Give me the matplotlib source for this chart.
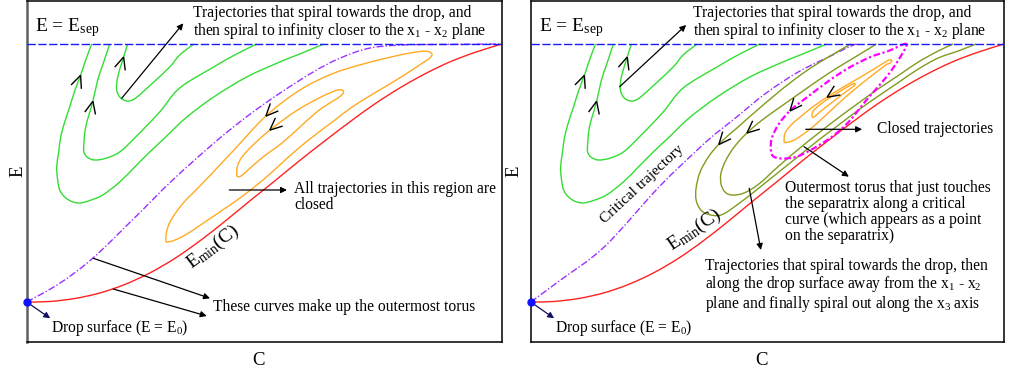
import numpy as np
import matplotlib
matplotlib.use("Agg")
import matplotlib.pyplot as plt
from matplotlib.path import Path
from matplotlib.patches import PathPatch

plt.rcParams["font.family"] = ["Liberation Serif", "DejaVu Serif"]
plt.rcParams["mathtext.fontset"] = "custom"
plt.rcParams["mathtext.rm"] = "Liberation Serif"
plt.rcParams["mathtext.it"] = "Liberation Serif:italic"
plt.rcParams["mathtext.bf"] = "Liberation Serif:bold"

# ---------------- phase-plane coordinates (C, E) ----------------
C_MAX, E_MAX = 475, 341
E_SEP, E_0 = 298, 40

# lower boundary E_min(C)
red_c = [0, 23, 48, 73, 98, 123, 148, 173, 198, 223, 248, 273, 298, 323, 348, 373, 398, 423, 448, 475]
red_e = [40, 40.5, 43.5, 49, 57.5, 69, 83.5, 101, 120.5, 141, 161, 181.5, 201, 220, 238, 254, 268, 280, 289.5, 298]

# open trajectories leaving through the separatrix (outer, middle, inner)
g3_c = [65, 59, 54, 48, 43, 38, 34, 32, 30, 31, 33, 38, 45, 53, 63, 76, 93, 109, 123, 139, 159, 187, 220, 253, 273, 297]
g3_e = [298, 282, 267, 251, 235, 220, 205, 190, 175, 162, 152, 145, 140.5, 139, 141.5, 147, 160, 176, 190, 205, 224, 245, 265, 280, 288, 298]
g2_c = [83, 81, 76, 71, 66, 59, 57, 57.5, 61, 68, 79, 93, 109, 133, 153, 187, 208, 230]
g2_e = [298, 292, 277, 262, 240, 215, 195, 189, 184.5, 182, 183.7, 190, 205, 230, 254, 275, 287, 298]
g1_c = [101, 96, 91, 90, 94, 101, 109, 126, 143, 153, 167]
g1_e = [298, 282, 265, 252, 244, 241, 244, 259, 275, 287, 298]

# left panel: outermost torus boundary and closed orbits
crit_l_c = [0, 33, 66, 109, 146, 187, 220, 253, 287, 313, 342, 375, 420, 475]
crit_l_e = [40, 58.7, 83.7, 125.3, 162, 198.7, 225.3, 248.7, 270.3, 283.7, 293.7, 297, 297.6, 298]
o1_c = [139.3, 139.8, 143.3, 150.3, 159.3, 173.3, 206.3, 239.3, 273.3, 306.3, 340.3, 373.3, 393.3, 401.3, 405.3,
        403.3, 397.3, 375.3, 356.3, 341.3, 323.3, 308.3, 290.3, 273.3, 256.3, 236.3, 213.3, 200.3, 178.3, 160.3,
        148.3, 141.3, 139.3]
o1_e = [101, 110, 120, 131, 142, 156, 191, 226, 252, 268.5, 279, 287, 290.5, 290.5, 288,
        284, 280, 265.5, 254, 245, 233.5, 222, 208.5, 195, 180, 162, 144, 135, 120, 108,
        102, 100, 101]
o2_c = [210, 210.8, 215.3, 225.3, 243.3, 269.3, 293.3, 309.3, 315.3, 316.8, 313.3, 306.3, 291.3, 273.3, 255.3,
        236.3, 221.3, 214.3, 210.8, 210]
o2_e = [168, 176, 185, 196, 212, 231, 244.5, 251.5, 252, 249.5, 245.5, 241, 231, 215, 199,
        185, 172, 166, 165.5, 168]

# right panel: critical trajectory, tori near E_min, separatrix-touching torus, closed orbits
crit_r_c = [0, 30, 74, 129, 169, 186, 203, 236, 269, 303, 319, 327]
crit_r_e = [40, 62, 95.3, 155.3, 193.7, 208.7, 222, 248.7, 270.3, 287, 295, 298]
olA_c = [321, 304, 284, 264, 244, 224, 207, 191, 179, 170, 166, 166, 170, 177, 191, 209, 229, 249, 269, 289,
         309, 329, 349, 369, 389, 409, 429, 447]
olA_e = [298, 288, 276, 262, 246, 229, 214, 200, 186, 170, 154, 142, 133, 128, 127, 138.5, 154, 170, 186, 202,
         217, 232, 246, 259.5, 273, 284, 291, 298]
olB_c = [347, 329, 309, 289, 269, 249, 231, 217, 205, 196, 191, 191, 195, 202, 214, 229, 249, 269, 289, 309,
         329, 349, 369, 389, 409, 424]
olB_e = [298, 287, 275, 262, 248, 234, 221, 209, 196, 182, 169, 158, 150, 147, 149, 158, 176, 193, 209, 224.4,
         239, 253.3, 266.5, 280, 291, 298]
mag_c = [377, 359, 341, 319, 299, 279, 261, 249, 242, 241, 243, 252, 266, 281, 302, 319, 337, 357, 369, 377]
mag_e = [298, 291, 285, 274, 261, 246, 232, 218, 204, 194, 186, 183.5, 185, 192, 205, 220, 242, 265, 282, 298]
or1_c = [254.3, 255.3, 261.3, 269.3, 284.3, 302.3, 317.3, 331.3, 345.3, 354.3, 359.3, 362.3, 360.3, 356.3,
         339.3, 324.3, 309.3, 294.3, 279.3, 266.3, 259.3, 255.3, 254.3]
or1_e = [201, 209, 217, 224, 236, 248, 257, 265, 273.5, 279, 282, 281.5, 278.5, 277,
         264, 252, 239, 225, 212, 203, 200, 199.5, 201]
or2_c = [282.3, 284.3, 295.3, 309.3, 321.3, 325.3, 324.3, 317.3, 304.3, 291.3, 284.3, 282.3]
or2_e = [226, 232, 241, 250, 257, 258.5, 256, 251, 241, 231, 225, 226]

GREEN = "#33dd33"
ORANGE = "#ffaa22"
RED = "#ff2222"
BLUE = "#1a1aff"
PURPLE = "#9b30ff"
OLIVE = "#7f9c1e"
MAGENTA = "#ff00ff"

FS = 11.2       # annotation text size
LS = 1.0        # line spacing of the multi-line notes


def smooth_path(c, e):
    """Cubic (Catmull-Rom) path through the given points."""
    pts = np.column_stack([c, e]).astype(float)
    n = len(pts)
    closed = np.allclose(pts[0], pts[-1])
    verts, codes = [pts[0]], [Path.MOVETO]
    for i in range(n - 1):
        p0 = pts[i - 1] if i > 0 else (pts[-2] if closed else pts[0])
        p1, p2 = pts[i], pts[i + 1]
        p3 = pts[i + 2] if i + 2 < n else (pts[1] if closed else pts[-1])
        verts += [p1 + (p2 - p0) / 6.0, p2 - (p3 - p1) / 6.0, p2]
        codes += [Path.CURVE4] * 3
    return Path(verts, codes)


def curve(ax, c, e, color, lw=1.0, ls="-"):
    ax.add_patch(PathPatch(smooth_path(c, e), fill=False, edgecolor=color,
                           lw=lw, linestyle=ls, capstyle="butt", zorder=2))


def chevron(ax, c, e, at, sign, size=13.5, half_angle=24.0):
    """Open arrowhead sitting on a curve, pointing along its direction of travel."""
    pts = np.column_stack([c, e]).astype(float)
    a = np.asarray(at, float)
    best = None
    for i in range(len(pts) - 1):
        p, q = pts[i], pts[i + 1]
        d = q - p
        t = np.clip(np.dot(a - p, d) / np.dot(d, d), 0, 1)
        proj = p + t * d
        dist = np.hypot(*(proj - a))
        if best is None or dist < best[0]:
            best = (dist, proj, d)
    _, tip, d = best
    u = sign * d / np.hypot(*d)
    th = np.radians(half_angle)
    for s in (1, -1):
        rot = np.array([[np.cos(s * th), -np.sin(s * th)], [np.sin(s * th), np.cos(s * th)]])
        arm = tip - size * (rot @ u)
        ax.plot([arm[0], tip[0]], [arm[1], tip[1]], color="k", lw=1.0, zorder=4,
                solid_capstyle="butt")


def pointer(ax, tail, head, color="k"):
    ax.annotate("", xy=head, xytext=tail,
                arrowprops=dict(arrowstyle="-|>", color=color, lw=0.9,
                                mutation_scale=9, shrinkA=0, shrinkB=0), zorder=5)


def note(ax, x, top, text_lines, size=FS):
    """Multi-line note; `top` is the upper edge of the first line."""
    ax.text(x, top, "\n".join(text_lines), fontsize=size, va="top", ha="left",
            linespacing=LS, zorder=6)


def common(ax, top_x, ylab_x):
    ax.set_xlim(0, C_MAX)
    ax.set_ylim(0, E_MAX)
    ax.set_xticks([])
    ax.set_yticks([])
    for sp in ax.spines.values():
        sp.set_linewidth(1.1)
    ax.axhline(E_SEP, color=BLUE, lw=1.0, ls=(0, (6, 1.8)), zorder=3)
    for gc, ge in ((g3_c, g3_e), (g2_c, g2_e), (g1_c, g1_e)):
        curve(ax, gc, ge, GREEN)
    curve(ax, red_c, red_e, RED)
    chevron(ax, g3_c, g3_e, (53, 267), -1)
    chevron(ax, g2_c, g2_e, (65, 241), -1)
    chevron(ax, g1_c, g1_e, (97, 285), -1)
    ax.plot([0], [E_0], "o", color="#1010ff", ms=5, zorder=7, clip_on=False)
    pointer(ax, (0, E_0), (23.5, 23.7), color="#101060")
    ax.text(24, 10.3, r"Drop surface (E = E$_0$)", fontsize=FS, va="baseline")
    ax.text(8, 310.3, r"E = E$_{\mathrm{sep}}$", fontsize=14, va="baseline")
    note(ax, top_x, 337,
         ["Trajectories that spiral towards the drop, and",
          r"then spiral to infinity closer to the x$_1$ - x$_2$ plane"])
    ax.text(0.488, -0.053, "C", transform=ax.transAxes, fontsize=13.5, ha="center", va="center")
    ax.text(ylab_x, 0.5, "E", transform=ax.transAxes, fontsize=13.5, ha="center", va="center",
            rotation=90)


fig = plt.figure(figsize=(10.09, 3.73), dpi=100)
axL = fig.add_axes([0.02646, 0.08311, 0.47076, 0.91421])
axR = fig.add_axes([0.52597, 0.08311, 0.46908, 0.91421])

# ---------------- left panel ----------------
common(axL, 166.6, -0.019)
axL.spines["left"].set_color("#606060")
axL.spines["left"].set_linewidth(1.8)
curve(axL, crit_l_c, crit_l_e, PURPLE, ls=(0, (5, 1.5, 1, 1.5)))
curve(axL, o1_c, o1_e, ORANGE)
curve(axL, o2_c, o2_e, ORANGE)
chevron(axL, o1_c, o1_e, (238, 227), -1)
chevron(axL, o2_c, o2_e, (243, 212), -1)
pointer(axL, (95, 243.7), (156.6, 318.7))
pointer(axL, (202.6, 152), (260.3, 152))
note(axL, 267.3, 161, ["All trajectories in this region are", "closed"])
pointer(axL, (66.6, 83.7), (183.3, 43.7))
pointer(axL, (86.6, 53), (180, 26))
axL.text(186.6, 31.3, "These curves make up the outermost torus", fontsize=FS, va="baseline")
axL.text(186.3, 95, r"E$_{\mathrm{min}}$(C)", fontsize=14, rotation=37, ha="center", va="center")

# ---------------- right panel ----------------
common(axR, 162.6, -0.035)
curve(axR, crit_r_c, crit_r_e, PURPLE, ls=(0, (5, 1.5, 1, 1.5)))
curve(axR, olA_c, olA_e, OLIVE)
curve(axR, olB_c, olB_e, OLIVE)
curve(axR, mag_c, mag_e, MAGENTA, lw=1.6, ls=(0, (3, 1.2, 1, 1.2)))
curve(axR, or1_c, or1_e, ORANGE)
curve(axR, or2_c, or2_e, ORANGE)
chevron(axR, olA_c, olA_e, (187, 199), 1)
chevron(axR, olB_c, olB_e, (217, 209), 1)
chevron(axR, mag_c, mag_e, (259, 232), 1)
chevron(axR, or1_c, or1_e, (296, 247), -1)
pointer(axR, (89.3, 255.3), (156, 317))
pointer(axR, (276, 212.7), (332.6, 212.7))
axR.text(347.6, 208.7, "Closed trajectories", fontsize=FS, va="baseline")
pointer(axR, (274.3, 195.3), (319.3, 165.3))
note(axR, 255.3, 161.5,
     ["Outermost torus that just touches", "the separatrix along a critical",
      "curve (which appears as a point", "on the separatrix)"])
pointer(axR, (219.3, 153.7), (231, 92))
note(axR, 175.3, 84,
     ["Trajectories that spiral towards the drop, then",
      r"along the drop surface away from the x$_1$ - x$_2$",
      r"plane and finally spiral out along the x$_3$ axis"])
axR.text(111.8, 157.8, "Critical trajectory", fontsize=11, rotation=43, ha="center", va="center")
axR.text(164.3, 112, r"E$_{\mathrm{min}}$(C)", fontsize=14, rotation=34, ha="center", va="center")

fig.savefig("out.png", dpi=100)
